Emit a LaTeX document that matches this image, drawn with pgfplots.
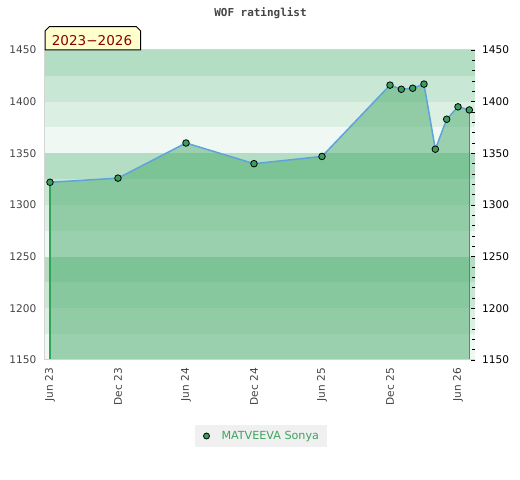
\documentclass[border=0pt]{standalone}
\usepackage{fontspec}
\setmainfont{DejaVu Sans}
\newfontfamily\monob{DejaVu Sans Mono}
\usepackage{pgfplots}
\pgfplotsset{compat=1.18}
\definecolor{bandA}{HTML}{B3DEC4}
\definecolor{bandB}{HTML}{C8E7D4}
\definecolor{bandC}{HTML}{DCEFE3}
\definecolor{bandD}{HTML}{EFF8F2}
\definecolor{fillg}{HTML}{47AA6A}
\definecolor{edgeg}{HTML}{2FA655}
\definecolor{lineb}{HTML}{5FA3DC}
\definecolor{markg}{HTML}{3A9E5C}
\definecolor{tabfill}{HTML}{FFFFCC}
\definecolor{tabtext}{HTML}{8B0000}
\definecolor{framec}{HTML}{D4D4D4}
\definecolor{labgrey}{HTML}{444444}
\definecolor{leggreen}{HTML}{3CA35F}
\definecolor{legbg}{HTML}{F0F0F0}
\begin{document}
\begin{tikzpicture}
\useasboundingbox (0,0) rectangle (520bp,480bp);
\begin{axis}[
  at={(45bp,120bp)}, anchor=south west,
  scale only axis, width=430bp, height=310bp,
  xmin=-0.44, xmax=37.5, ymin=1150, ymax=1450,
  axis x line*=box, axis y line*=left,
  axis line style={draw=framec, line width=1bp},
  axis on top,
  xtick={0,6,12,18,24,30,36},
  xticklabels={Jun 23,Dec 23,Jun 24,Dec 24,Jun 25,Dec 25,Jun 26},
  ytick={1150,1200,1250,1300,1350,1400,1450},
  major tick length=0pt,
  tick style={draw=none},
  scaled ticks=false,
  /pgf/number format/1000 sep={},
  /pgf/number format/assume math mode=true,
  xticklabel style={rotate=90, anchor=east, inner sep=0pt, text=labgrey, font=\fontsize{10.6}{12}\selectfont},
  yticklabel style={anchor=east, inner sep=0pt, text=labgrey, font=\fontsize{10.6}{12}\selectfont},
  xticklabel shift=8bp,
  yticklabel shift=8.5bp,
  legend style={at={(axis description cs:0.5023,-0.2452)}, anchor=center, draw=none, fill=legbg,
    inner xsep=6bp, inner ysep=4bp, font=\fontsize{11.2}{12}\selectfont, text=leggreen},
  legend image code/.code={\path[draw=none,fill=none] (0bp,-3bp) rectangle (18.5bp,3bp); \draw[#1] plot coordinates {(5.5bp,0bp)};},
]
\fill[bandD] (axis cs:-1,1150) rectangle (axis cs:38,1175);
\fill[bandC] (axis cs:-1,1175) rectangle (axis cs:38,1200);
\fill[bandB] (axis cs:-1,1200) rectangle (axis cs:38,1225);
\fill[bandA] (axis cs:-1,1225) rectangle (axis cs:38,1250);
\fill[bandD] (axis cs:-1,1250) rectangle (axis cs:38,1275);
\fill[bandC] (axis cs:-1,1275) rectangle (axis cs:38,1300);
\fill[bandB] (axis cs:-1,1300) rectangle (axis cs:38,1325);
\fill[bandA] (axis cs:-1,1325) rectangle (axis cs:38,1350);
\fill[bandD] (axis cs:-1,1350) rectangle (axis cs:38,1375);
\fill[bandC] (axis cs:-1,1375) rectangle (axis cs:38,1400);
\fill[bandB] (axis cs:-1,1400) rectangle (axis cs:38,1425);
\fill[bandA] (axis cs:-1,1425) rectangle (axis cs:38,1450);
\addplot[draw=none, fill=fillg, fill opacity=0.5, forget plot] coordinates {
(0,1150) (0,1322) (6,1326) (12,1360) (18,1340) (24,1347) (30,1416) (31,1412) (32,1413) (33,1417) (34,1354) (35,1383) (36,1395) (37,1392) (37,1150)} -- cycle;
\addplot[draw=edgeg, line width=1.1bp, forget plot] coordinates {(0,1150) (0,1322)};
\addplot[draw=edgeg, line width=1.1bp, forget plot] coordinates {(37,1392) (37,1150)};
\addplot[lineb, line width=1.5bp, mark=*, mark size=3.3bp, mark options={fill=markg, draw=black, line width=0.8bp, solid}, forget plot] coordinates {
(0,1322) (6,1326) (12,1360) (18,1340) (24,1347) (30,1416) (31,1412) (32,1413) (33,1417) (34,1354) (35,1383) (36,1395) (37,1392)};
\addlegendimage{only marks, mark=*, mark size=3bp, mark options={fill=markg, draw=black, line width=0.8bp}}
\addlegendentry{MATVEEVA Sonya}
\end{axis}
\begin{axis}[
  at={(45bp,120bp)}, anchor=south west,
  scale only axis, width=430bp, height=310bp,
  xmin=-0.44, xmax=37.5, ymin=1150, ymax=1450,
  hide x axis,
  axis y line*=right,
  axis line style={draw=none},
  ytick={1150,1200,1250,1300,1350,1400,1450},
  minor ytick={1160,1170,...,1440},
  tick align=inside,
  major tick length=4.5bp, minor tick length=3bp,
  tick style={draw=black, line width=0.8bp},
  scaled ticks=false,
  /pgf/number format/1000 sep={},
  /pgf/number format/assume math mode=true,
  yticklabel style={anchor=west, inner sep=0pt, text=black, font=\fontsize{10.6}{12}\selectfont},
  yticklabel shift=7bp,
]
\addplot[draw=none] coordinates {(0,1300)};
\end{axis}
\node[anchor=base, font=\monob\bfseries\fontsize{11}{13}\selectfont, text=labgrey] at (260.5bp,463.3bp) {WOF ratinglist};
\draw[fill=tabfill, draw=black, line width=1bp] (45bp,430bp) -- (45bp,449bp) -- (49.3bp,453.3bp) -- (136.4bp,453.3bp) -- (140.7bp,449bp) -- (140.7bp,430bp) -- cycle;
\node[anchor=base, inner sep=0pt, text=tabtext, font=\fontsize{13.6}{15}\selectfont] at (92bp,434.3bp) {2023−2026};
\end{tikzpicture}
\end{document}
